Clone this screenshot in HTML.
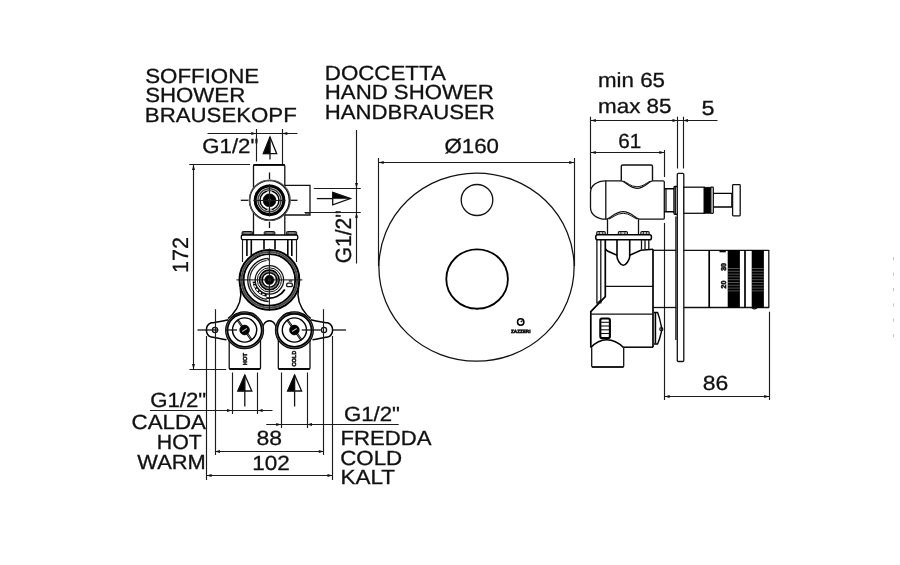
<!DOCTYPE html>
<html><head><meta charset="utf-8"><title>Drawing</title>
<style>
html,body{margin:0;padding:0;background:#fff;}
body{width:900px;height:565px;overflow:hidden;}
svg{display:block;}
text{font-family:"Liberation Sans",sans-serif;fill:#111;stroke:#111;stroke-width:0.3;text-rendering:geometricPrecision;}
svg{will-change:transform;filter:grayscale(1);}
.t{stroke:#1c1c1c;stroke-width:1.15;fill:none;}
.m{stroke:#111;stroke-width:1.3;fill:none;}
.k{stroke:#000;stroke-width:1.7;fill:none;}
.f{fill:#000;stroke:#000;stroke-width:0.6;}
</style></head>
<body>
<svg width="900" height="565" viewBox="0 0 900 565">
<rect x="0" y="0" width="900" height="565" fill="#fff"/>
<text x="145.2" y="82.5" font-size="20.5" textLength="114" lengthAdjust="spacingAndGlyphs" >SOFFIONE</text>
<text x="145.2" y="102.4" font-size="20.5" textLength="100" lengthAdjust="spacingAndGlyphs" >SHOWER</text>
<text x="144.8" y="122" font-size="20.5" textLength="152" lengthAdjust="spacingAndGlyphs" >BRAUSEKOPF</text>
<text x="324.8" y="79.5" font-size="20.5" textLength="121" lengthAdjust="spacingAndGlyphs" >DOCCETTA</text>
<text x="324.8" y="99.2" font-size="20.5" textLength="169" lengthAdjust="spacingAndGlyphs" >HAND SHOWER</text>
<text x="324.8" y="119.2" font-size="20.5" textLength="170" lengthAdjust="spacingAndGlyphs" >HANDBRAUSER</text>
<text x="202.3" y="153.3" font-size="20.5" textLength="56" lengthAdjust="spacingAndGlyphs" >G1/2"</text>
<text x="444.5" y="152.7" font-size="20.5" textLength="54.5" lengthAdjust="spacingAndGlyphs" >Ø160</text>
<text x="598" y="86.7" font-size="20.5" textLength="67" lengthAdjust="spacingAndGlyphs" >min 65</text>
<text x="598" y="112.5" font-size="20.5" textLength="73.5" lengthAdjust="spacingAndGlyphs" >max 85</text>
<text x="701.5" y="114.7" font-size="20.5" textLength="13" lengthAdjust="spacingAndGlyphs" >5</text>
<text x="618.2" y="148" font-size="20.5" textLength="23" lengthAdjust="spacingAndGlyphs" >61</text>
<text x="702.8" y="390" font-size="20.5" textLength="25.5" lengthAdjust="spacingAndGlyphs" >86</text>
<text x="256.5" y="445" font-size="20.5" textLength="25.5" lengthAdjust="spacingAndGlyphs" >88</text>
<text x="252.2" y="470" font-size="20.5" textLength="37.5" lengthAdjust="spacingAndGlyphs" >102</text>
<text x="150.2" y="406.7" font-size="20.5" textLength="56" lengthAdjust="spacingAndGlyphs" >G1/2"</text>
<text x="131.5" y="429.2" font-size="20.5" textLength="74.5" lengthAdjust="spacingAndGlyphs" >CALDA</text>
<text x="156.8" y="448.7" font-size="20.5" textLength="45" lengthAdjust="spacingAndGlyphs" >HOT</text>
<text x="137.3" y="469.2" font-size="20.5" textLength="68.5" lengthAdjust="spacingAndGlyphs" >WARM</text>
<text x="344" y="420.5" font-size="20.5" textLength="56" lengthAdjust="spacingAndGlyphs" >G1/2"</text>
<text x="340.5" y="445" font-size="20.5" textLength="91" lengthAdjust="spacingAndGlyphs" >FREDDA</text>
<text x="340.2" y="464.5" font-size="20.5" textLength="62" lengthAdjust="spacingAndGlyphs" >COLD</text>
<text x="340.5" y="484.2" font-size="20.5" textLength="54.5" lengthAdjust="spacingAndGlyphs" >KALT</text>
<text transform="translate(188.3,273) rotate(-90)" font-size="22" textLength="36" lengthAdjust="spacingAndGlyphs">172</text>
<text transform="translate(351.3,263.3) rotate(-90)" font-size="22" textLength="53" lengthAdjust="spacingAndGlyphs">G1/2"</text>
<line class="t" x1="207.5" y1="133.5" x2="297.5" y2="133.5" />
<line class="t" x1="256.5" y1="129" x2="256.5" y2="161.5" />
<line class="t" x1="282.5" y1="129" x2="282.5" y2="164" />
<path d="M256.3,133.5 L251.3,135.0 L251.3,132.0 Z" fill="#111" stroke="none"/>
<path d="M282.3,133.5 L287.3,132.0 L287.3,135.0 Z" fill="#111" stroke="none"/>
<path class="f" d="M270,137 L263.3,153.7 L270,153.7 Z" />
<path class="m" d="M270,137 L276.7,153.7 L263.3,153.7 Z" />
<line class="m" x1="270" y1="137" x2="270" y2="159.5" />
<line class="t" x1="189.2" y1="164.5" x2="250" y2="164.5" />
<line class="t" x1="193.5" y1="165" x2="193.5" y2="369" />
<path d="M193.5,164.9 L195.0,169.9 L192.0,169.9 Z" fill="#111" stroke="none"/>
<path d="M193.5,369 L192.0,364.0 L195.0,364.0 Z" fill="#111" stroke="none"/>
<line class="t" x1="189.5" y1="369.5" x2="226.2" y2="369.5" />
<path class="m" d="M253.5,235 L253.5,166 Q253.5,164.7 255,164.7 L283.3,164.7 Q284.8,164.7 284.8,166 L284.8,235" />
<line class="k" x1="253.5" y1="165" x2="284.8" y2="165" />
<path class="m" d="M284.8,185.3 L310,185.3 L310,215 L284.8,215" />
<line class="m" x1="305" y1="213" x2="310" y2="213" />
<circle class="k" cx="269.5" cy="200.3" r="19.9" style="stroke-width:1.5;fill:#fff" />
<ellipse class="t" cx="269.8" cy="200.3" rx="20.5" ry="20.2" style="stroke:#555" />
<circle class="k" cx="269.5" cy="200.3" r="14.3" style="stroke-width:3.1" />
<circle class="t" cx="269.5" cy="200.3" r="11.5" style="stroke:#3a3a3a;stroke-width:1.5" />
<circle class="k" cx="269.5" cy="200.3" r="9.5" style="stroke-width:1.5" />
<circle class="f" cx="269.5" cy="200.3" r="6.5" />
<rect class="" x="268.3" y="199.10000000000002" width="2.4" height="2.4" style="fill:#777" />
<rect class="" x="267.3" y="190.70000000000002" width="4.4" height="1.6" style="fill:#ccc" />
<rect class="" x="267.3" y="208.3" width="4.4" height="1.6" style="fill:#ccc" />
<line class="m" x1="240.8" y1="200.3" x2="248.3" y2="200.3" />
<line class="m" x1="290.8" y1="200.3" x2="297.5" y2="200.3" />
<line class="m" x1="269.5" y1="172.5" x2="269.5" y2="179" />
<line class="m" x1="269.5" y1="221.7" x2="269.5" y2="228" />
<line class="t" x1="253.5" y1="200.5" x2="285.5" y2="200.5" />
<line class="t" x1="269.5" y1="184.3" x2="269.5" y2="216.3" />
<line class="t" x1="313.8" y1="188.5" x2="360.8" y2="188.5" />
<line class="t" x1="304.5" y1="212.5" x2="360.8" y2="212.5" />
<line class="t" x1="356.5" y1="130" x2="356.5" y2="263.5" />
<path d="M356.5,188 L355.0,183.0 L358.0,183.0 Z" fill="#111" stroke="none"/>
<path d="M356.5,212.8 L358.0,217.8 L355.0,217.8 Z" fill="#111" stroke="none"/>
<line class="m" x1="316.8" y1="198.6" x2="333" y2="198.6" />
<path class="f" d="M332.7,192.4 L350.4,198.6 L332.7,198.6 Z" />
<path class="m" d="M332.7,192.4 L350.4,198.6 L332.7,204.8 Z" />
<rect class="" x="242" y="231.5" width="10.699999999999989" height="3.6" style="fill:#555;stroke:#111;stroke-width:1" rx="1.2"/>
<line class="" x1="244.5" y1="233" x2="250.2" y2="233" style="stroke:#aaa;stroke-width:0.9" />
<rect class="" x="264.2" y="231.5" width="10.699999999999989" height="3.6" style="fill:#555;stroke:#111;stroke-width:1" rx="1.2"/>
<line class="" x1="266.7" y1="233" x2="272.4" y2="233" style="stroke:#aaa;stroke-width:0.9" />
<rect class="" x="286.4" y="231.5" width="10.300000000000011" height="3.6" style="fill:#555;stroke:#111;stroke-width:1" rx="1.2"/>
<line class="" x1="288.9" y1="233" x2="294.2" y2="233" style="stroke:#aaa;stroke-width:0.9" />
<rect class="k" x="241.3" y="235" width="56.5" height="4.7" style="stroke-width:1.3;fill:#fff" rx="1.6"/>
<line class="t" x1="242.5" y1="239.7" x2="242.5" y2="262" />
<line class="t" x1="296.5" y1="239.7" x2="296.5" y2="262" />
<line class="k" x1="246.9" y1="239.7" x2="246.9" y2="256" style="stroke-width:1.6" />
<line class="k" x1="251.3" y1="239.7" x2="251.3" y2="256" style="stroke-width:1.6" />
<line class="k" x1="287.8" y1="239.7" x2="287.8" y2="256" style="stroke-width:1.6" />
<line class="k" x1="291.8" y1="239.7" x2="291.8" y2="256" style="stroke-width:1.6" />
<line class="k" x1="264" y1="239.7" x2="264" y2="249.6" style="stroke-width:1.6" />
<line class="k" x1="275" y1="239.7" x2="275" y2="249.6" style="stroke-width:1.6" />
<path class="k" d="M240.3,288 C242.2,298 240,306 232,315 L228,318.5" style="stroke-width:1.5" />
<path class="k" d="M298.5,288 C296.6,298 298.8,306 306.8,315 L310.8,318.5" style="stroke-width:1.5" />
<circle class="" cx="269.4" cy="279.9" r="30.6" style="fill:#fff;stroke:none" />
<circle class="k" cx="269.4" cy="279.9" r="29.9" style="stroke-width:2.0" />
<circle class="k" cx="269.4" cy="279.9" r="27.8" style="stroke:#4a4a4a;stroke-width:2.0" />
<circle class="k" cx="269.4" cy="279.9" r="25.8" style="stroke-width:1.8" />
<path class="m" d="M268.65,301.49 A21.6,21.6 0 0 1 267.89,258.35" style="stroke-width:1.3" />
<path class="t" d="M266.67,299.31 A19.6,19.6 0 0 1 266.67,260.49" />
<path class="m" d="M268.2,258.29999999999995 L268.2,260.5" />
<path class="k" d="M284.83,289.54 A18.2,18.2 0 0 1 266.24,297.82" style="stroke-width:1.8" />
<path class="k" d="M266.67,295.36 A15.7,15.7 0 0 1 253.79,281.54" style="stroke-width:2.6" />
<path class="" d="M264.55,294.83 A15.7,15.7 0 0 1 254.04,283.16" style="stroke:#fff;stroke-width:1.5;stroke-dasharray:2.4 1.5;fill:none" />
<circle class="m" cx="269.4" cy="279.9" r="14.2" />
<circle class="m" cx="269.4" cy="279.9" r="12.1" style="stroke-width:1" />
<circle class="k" cx="269.4" cy="279.9" r="9.8" style="stroke-width:1.6" />
<circle class="t" cx="269.4" cy="279.9" r="8.4" style="stroke:#666" />
<circle class="k" cx="269.4" cy="279.9" r="7.2" style="stroke-width:1.4" />
<circle class="f" cx="269.4" cy="279.9" r="4.6" />
<circle class="" cx="269.4" cy="279.9" r="1.4" style="fill:#666" />
<rect class="m" x="286.7" y="283.2" width="5.6" height="3.5" rx="1.2"/>
<line class="m" x1="288.8" y1="281" x2="292.3" y2="281" />
<line class="m" x1="236.4" y1="279.9" x2="302.4" y2="279.9" style="stroke-width:1" />
<line class="m" x1="269.4" y1="248.5" x2="269.4" y2="310.8" style="stroke-width:1" />
<path class="k" d="M228.3,319.8 C222,321.5 216,322 211.3,322.8 Q206.4,324.5 206.4,330 Q206.4,335.5 211.3,337.1 C216,338 222,339 226.5,339.8" style="stroke-width:1.5" />
<path class="k" d="M310.7,319.8 C317,321.5 323,322 327.7,322.8 Q332.6,324.5 332.6,330 Q332.6,335.5 327.7,337.1 C323,338 317,339 312.5,339.8" style="stroke-width:1.5" />
<circle class="m" cx="215" cy="330" r="2.6" />
<circle class="m" cx="324" cy="330" r="2.6" />
<line class="t" x1="215.5" y1="309.2" x2="215.5" y2="455" />
<line class="t" x1="323.5" y1="309.2" x2="323.5" y2="455" />
<line class="t" x1="206.5" y1="336" x2="206.5" y2="480" />
<line class="t" x1="332.5" y1="336" x2="332.5" y2="480" />
<path class="m" d="M229.2,338 L229.2,368 Q229.2,369 230.2,369 L259.5,369 Q260.5,369 260.5,368 L260.5,338" />
<path class="m" d="M278.3,338 L278.3,368 Q278.3,369 279.3,369 L309,369 Q310,369 310,368 L310,338" />
<line class="k" x1="229.5" y1="369" x2="260.2" y2="369" />
<line class="k" x1="278.6" y1="369" x2="309.7" y2="369" />
<path class="k" d="M262.3,332 C262.3,326 264.6,320.8 269.4,320.8 C274.2,320.8 276.5,326 276.5,332" style="stroke-width:1.4" />
<circle class="" cx="244.6" cy="330" r="19.2" style="fill:#fff;stroke:none" />
<ellipse class="k" cx="244.6" cy="330.3" rx="17.9" ry="17.3" style="stroke-width:3.3" />
<ellipse class="" cx="244.6" cy="330.3" rx="18.2" ry="17.6" style="stroke:#777;stroke-width:0.7;fill:none" />
<circle class="k" cx="244.6" cy="330" r="12.1" style="stroke-width:1.4" />
<path class="k" d="M237.7,320.2 L251.5,339.8" style="stroke-width:2.2" />
<path class="" d="M238.1,320.8 L251.1,339.2" style="stroke:#aaa;stroke-width:0.7;fill:none" />
<circle class="f" cx="244.6" cy="330" r="4.9" />
<path class="" d="M242.2,331.5 L247.0,328.5" style="stroke:#bbb;stroke-width:1.2;fill:none" />
<circle class="" cx="294.4" cy="330" r="19.2" style="fill:#fff;stroke:none" />
<ellipse class="k" cx="294.4" cy="330.3" rx="17.9" ry="17.3" style="stroke-width:3.3" />
<ellipse class="" cx="294.4" cy="330.3" rx="18.2" ry="17.6" style="stroke:#777;stroke-width:0.7;fill:none" />
<circle class="k" cx="294.4" cy="330" r="12.1" style="stroke-width:1.4" />
<path class="k" d="M287.5,320.2 L301.29999999999995,339.8" style="stroke-width:2.2" />
<path class="" d="M287.9,320.8 L300.9,339.2" style="stroke:#aaa;stroke-width:0.7;fill:none" />
<circle class="f" cx="294.4" cy="330" r="4.9" />
<path class="" d="M292.0,331.5 L296.79999999999995,328.5" style="stroke:#bbb;stroke-width:1.2;fill:none" />
<path class="m" d="M232.5,317.5 L236,314.2 L252.5,313.2 L256.5,316" style="stroke-width:1.3" />
<path class="m" d="M282.5,316 L286.5,313.2 L303,314.2 L306.5,317.5" style="stroke-width:1.3" />
<line class="m" x1="197.5" y1="330" x2="218.4" y2="330" />
<line class="m" x1="226.2" y1="330" x2="237" y2="330" />
<line class="m" x1="301.7" y1="330" x2="320.8" y2="330" />
<line class="m" x1="333" y1="330" x2="346" y2="330" />
<text transform="translate(247.2,365.3) rotate(-90)" font-size="5.8" font-weight="bold" style="stroke-width:0.5" textLength="12.3" lengthAdjust="spacingAndGlyphs">HOT</text>
<text transform="translate(296.3,366.6) rotate(-90)" font-size="5.8" font-weight="bold" style="stroke-width:0.5" textLength="16" lengthAdjust="spacingAndGlyphs">COLD</text>
<path class="f" d="M244.8,375 L237.8,391 L244.8,391 Z" />
<path class="m" d="M244.8,375 L251.8,391 L237.8,391 Z" />
<line class="m" x1="244.8" y1="375" x2="244.8" y2="406.5" />
<path class="f" d="M294.6,375 L287.6,391 L294.6,391 Z" />
<path class="m" d="M294.6,375 L301.6,391 L287.6,391 Z" />
<line class="m" x1="294.6" y1="375" x2="294.6" y2="406.5" />
<line class="t" x1="232.5" y1="372.5" x2="232.5" y2="414" />
<line class="t" x1="257.5" y1="372.5" x2="257.5" y2="414" />
<line class="t" x1="281.5" y1="372.5" x2="281.5" y2="428" />
<line class="t" x1="307.5" y1="372.5" x2="307.5" y2="428" />
<line class="t" x1="150" y1="410.5" x2="272.5" y2="410.5" />
<path d="M232,410.5 L227.0,412.0 L227.0,409.0 Z" fill="#111" stroke="none"/>
<path d="M257.6,410.5 L262.6,409.0 L262.6,412.0 Z" fill="#111" stroke="none"/>
<line class="t" x1="266.2" y1="424.5" x2="398.7" y2="424.5" />
<path d="M281.2,424.5 L276.2,426.0 L276.2,423.0 Z" fill="#111" stroke="none"/>
<path d="M307,424.5 L312.0,423.0 L312.0,426.0 Z" fill="#111" stroke="none"/>
<line class="t" x1="215" y1="451.5" x2="323.8" y2="451.5" />
<path d="M215,451.5 L220.0,450.0 L220.0,453.0 Z" fill="#111" stroke="none"/>
<path d="M323.8,451.5 L318.8,453.0 L318.8,450.0 Z" fill="#111" stroke="none"/>
<line class="t" x1="206.6" y1="475.5" x2="332.5" y2="475.5" />
<path d="M206.6,475.5 L211.6,474.0 L211.6,477.0 Z" fill="#111" stroke="none"/>
<path d="M332.5,475.5 L327.5,477.0 L327.5,474.0 Z" fill="#111" stroke="none"/>
<line class="t" x1="378.7" y1="162.5" x2="574.2" y2="162.5" />
<path d="M378.7,162.5 L383.7,161.0 L383.7,164.0 Z" fill="#111" stroke="none"/>
<path d="M574.2,162.5 L569.2,164.0 L569.2,161.0 Z" fill="#111" stroke="none"/>
<line class="t" x1="378.5" y1="158" x2="378.5" y2="266" />
<line class="t" x1="574.5" y1="158" x2="574.5" y2="266" />
<ellipse class="m" cx="476.5" cy="267.1" rx="97.6" ry="94.1" style="stroke-width:1.25" />
<ellipse class="m" cx="477" cy="200" rx="15.8" ry="15.5" style="stroke-width:1.3" />
<ellipse class="k" cx="477.1" cy="279" rx="30.8" ry="29.7" style="stroke-width:1.8" />
<line class="m" x1="475.8" y1="309" x2="478.4" y2="309" />
<circle class="k" cx="520.7" cy="322" r="3.2" style="stroke-width:1.5" />
<path class="m" d="M520.7,322 L522.6,320.6" />
<text x="511" y="333.3" font-size="4.6" font-weight="bold" style="stroke-width:0.55" textLength="19.5" lengthAdjust="spacingAndGlyphs">ZAZZERI</text>
<line class="t" x1="590.8" y1="120.5" x2="717.5" y2="120.5" />
<line class="t" x1="590.5" y1="116.7" x2="590.5" y2="189" />
<line class="t" x1="677.5" y1="116.7" x2="677.5" y2="168.5" />
<line class="t" x1="683.5" y1="116.7" x2="683.5" y2="168.5" />
<path d="M590.8,120.5 L595.8,119.0 L595.8,122.0 Z" fill="#111" stroke="none"/>
<path d="M677.5,120.5 L672.5,122.0 L672.5,119.0 Z" fill="#111" stroke="none"/>
<path d="M683,120.5 L688.0,119.0 L688.0,122.0 Z" fill="#111" stroke="none"/>
<line class="t" x1="590.8" y1="152.5" x2="664.3" y2="152.5" />
<path d="M590.8,152.5 L595.8,151.0 L595.8,154.0 Z" fill="#111" stroke="none"/>
<path d="M664.3,152.5 L659.3,154.0 L659.3,151.0 Z" fill="#111" stroke="none"/>
<line class="t" x1="664.5" y1="150" x2="664.5" y2="177" />
<line class="t" x1="664.5" y1="223" x2="664.5" y2="400" />
<line class="t" x1="664.7" y1="396.5" x2="769.2" y2="396.5" />
<path d="M664.7,396.5 L669.7,395.0 L669.7,398.0 Z" fill="#111" stroke="none"/>
<path d="M769.2,396.5 L764.2,398.0 L764.2,395.0 Z" fill="#111" stroke="none"/>
<line class="t" x1="769.5" y1="311.7" x2="769.5" y2="400" />
<path class="m" d="M605.8,180.8 L621.3,180.8 C626,181.5 629,188.3 636.9,188.3 C645,188.3 648,181.5 652.5,180.8 L663,180.8 Q664.3,180.8 664.3,182 L664.3,218 Q664.3,219.2 663,219.2 L639.2,219.2 C635,218 631,211.7 623.2,211.7 C615,211.7 611,218 606.7,219.2 L605.8,219.2 C597,219.2 590.5,214.5 590.5,207.5 L590.5,192.5 C590.5,185.5 597,180.8 605.8,180.8 Z" style="stroke-width:1.3" />
<path class="m" d="M623.5,181.2 C627.5,182.5 630.5,186.7 636.9,186.7 C643.5,186.7 646.5,182.5 650.3,181.2" style="stroke-width:1" />
<path class="m" d="M609,219 C613,217.6 616.5,213.3 623.2,213.3 C629.5,213.3 633,217.6 637,219" style="stroke-width:1" />
<line class="m" x1="605.8" y1="180.8" x2="605.8" y2="219.2" />
<path class="m" d="M621.3,180.8 L621.3,166.5 Q621.3,165 622.8,165 L651,165 Q652.5,165 652.5,166.5 L652.5,180.8" style="stroke-width:1.4" />
<line class="m" x1="607.5" y1="219.2" x2="607.5" y2="234.7" />
<line class="m" x1="638.5" y1="219.2" x2="638.5" y2="234.7" />
<path class="k" d="M664.3,188.7 L674.2,188.7 M664.3,211.7 L674.2,211.7" style="stroke-width:1.5" />
<line class="m" x1="666" y1="188.7" x2="666" y2="211.7" />
<path class="k" d="M677.2,186.5 L675,186.5 Q674,186.5 674,187.5 L674,213.2 Q674,214.2 675,214.2 L677.2,214.2" style="stroke-width:1.4" />
<line class="t" x1="675.5" y1="187" x2="675.5" y2="214" />
<path class="m" d="M677.3,361.3 L677.3,174.5 Q677.3,173.3 678.5,173.3 L682.6,173.3 Q683.8,173.3 683.8,174.5 L683.8,360.3 Q683.8,361.5 682.6,361.5 L678.5,361.5 Q677.3,361.5 677.3,360.3" style="fill:#fff" />
<line class="m" x1="675.9" y1="216.5" x2="675.9" y2="340" style="stroke-width:1.3" />
<rect class="m" x="683.8" y="187.2" width="20.4" height="26.1" style="fill:#fff;stroke-width:1.3" />
<rect class="f" x="704.2" y="187.2" width="6.6" height="26.1" />
<rect class="m" x="710.8" y="187.2" width="2.5" height="26.1" style="stroke-width:1.3" rx="0.8"/>
<path class="k" d="M713.3,193.4 L732.5,193.4 M713.3,207 L732.5,207" style="stroke-width:1.4" />
<line class="m" x1="731.8" y1="193.4" x2="731.8" y2="207" />
<rect class="m" x="732.6" y="184.7" width="7.6" height="31.1" style="stroke-width:1.3;fill:#fff" rx="0.7"/>
<rect class="" x="596.7" y="231.5" width="8.599999999999909" height="3.4" style="fill:#bbb;stroke:#111;stroke-width:1.1" rx="1.2"/>
<line class="" x1="599.3000000000001" y1="231.8" x2="599.3000000000001" y2="234.6" style="stroke:#222;stroke-width:0.9" />
<line class="" x1="602.6999999999999" y1="231.8" x2="602.6999999999999" y2="234.6" style="stroke:#222;stroke-width:0.9" />
<rect class="" x="618.3" y="231.5" width="9.200000000000045" height="3.4" style="fill:#bbb;stroke:#111;stroke-width:1.1" rx="1.2"/>
<line class="" x1="620.9" y1="231.8" x2="620.9" y2="234.6" style="stroke:#222;stroke-width:0.9" />
<line class="" x1="624.9" y1="231.8" x2="624.9" y2="234.6" style="stroke:#222;stroke-width:0.9" />
<rect class="" x="640.8" y="231.5" width="8.400000000000091" height="3.4" style="fill:#bbb;stroke:#111;stroke-width:1.1" rx="1.2"/>
<line class="" x1="643.4" y1="231.8" x2="643.4" y2="234.6" style="stroke:#222;stroke-width:0.9" />
<line class="" x1="646.6" y1="231.8" x2="646.6" y2="234.6" style="stroke:#222;stroke-width:0.9" />
<rect class="k" x="595.8" y="234.8" width="55.6" height="4.9" style="stroke-width:1.5;fill:#fff" rx="1.8"/>
<line class="m" x1="596.9" y1="239.7" x2="596.9" y2="303.5" />
<line class="m" x1="600.8" y1="239.7" x2="600.8" y2="303.5" />
<path class="t" d="M596.9,303.5 L600.8,300" />
<path class="k" d="M605.3,239.7 L605.3,296.7 L590.8,311.7 L590.8,347.5" style="stroke-width:1.7" />
<path class="k" d="M617,239.7 L617,256.5 C617,260 620.8,265.3 623.3,265.3 C625.8,265.3 629.7,260 629.7,256.5 L629.7,239.7" style="stroke-width:1.6" />
<path class="k" d="M605.3,248.8 L607.5,251 L617,255.2" style="stroke-width:1.5" />
<path class="k" d="M629.7,255.2 L640.8,250.3 L653,249.2" style="stroke-width:1.5" />
<line class="m" x1="641.5" y1="239.7" x2="641.5" y2="249.5" />
<line class="m" x1="645" y1="239.7" x2="645" y2="249.5" />
<line class="m" x1="648.8" y1="239.7" x2="648.8" y2="249.5" />
<line class="m" x1="605.8" y1="286.3" x2="653" y2="286.3" />
<path class="k" d="M653,249.2 L653,347.2" style="stroke-width:1.7" />
<line class="m" x1="590.8" y1="314.2" x2="653" y2="314.2" />
<path class="k" d="M623.3,347.2 L653,347.2" style="stroke-width:1.5" />
<line class="m" x1="653" y1="250.3" x2="676.3" y2="250.3" />
<line class="m" x1="683.8" y1="250.3" x2="769.2" y2="250.3" />
<line class="m" x1="653" y1="307.5" x2="676.3" y2="307.5" />
<line class="m" x1="683.8" y1="307.5" x2="769.2" y2="307.5" />
<line class="k" x1="709.2" y1="250.3" x2="709.2" y2="307.5" />
<rect class="f" x="728" y="250.3" width="11.7" height="57.2" />
<rect class="f" x="752" y="250.3" width="11.7" height="57.2" />
<line x1="728" y1="268.5" x2="739.7" y2="268.5" stroke="#666" stroke-width="0.8"/>
<line x1="752" y1="268.5" x2="763.7" y2="268.5" stroke="#666" stroke-width="0.8"/>
<line x1="728" y1="271.3" x2="739.7" y2="271.3" stroke="#666" stroke-width="0.8"/>
<line x1="752" y1="271.3" x2="763.7" y2="271.3" stroke="#666" stroke-width="0.8"/>
<line x1="728" y1="274.1" x2="739.7" y2="274.1" stroke="#666" stroke-width="0.8"/>
<line x1="752" y1="274.1" x2="763.7" y2="274.1" stroke="#666" stroke-width="0.8"/>
<line x1="728" y1="276.9" x2="739.7" y2="276.9" stroke="#666" stroke-width="0.8"/>
<line x1="752" y1="276.9" x2="763.7" y2="276.9" stroke="#666" stroke-width="0.8"/>
<line x1="728" y1="279.7" x2="739.7" y2="279.7" stroke="#666" stroke-width="0.8"/>
<line x1="752" y1="279.7" x2="763.7" y2="279.7" stroke="#666" stroke-width="0.8"/>
<line x1="728" y1="282.5" x2="739.7" y2="282.5" stroke="#666" stroke-width="0.8"/>
<line x1="752" y1="282.5" x2="763.7" y2="282.5" stroke="#666" stroke-width="0.8"/>
<line x1="728" y1="285.3" x2="739.7" y2="285.3" stroke="#666" stroke-width="0.8"/>
<line x1="752" y1="285.3" x2="763.7" y2="285.3" stroke="#666" stroke-width="0.8"/>
<line x1="728" y1="288.1" x2="739.7" y2="288.1" stroke="#666" stroke-width="0.8"/>
<line x1="752" y1="288.1" x2="763.7" y2="288.1" stroke="#666" stroke-width="0.8"/>
<line x1="728" y1="290.9" x2="739.7" y2="290.9" stroke="#666" stroke-width="0.8"/>
<line x1="752" y1="290.9" x2="763.7" y2="290.9" stroke="#666" stroke-width="0.8"/>
<line class="k" x1="745" y1="250.3" x2="745" y2="307.5" />
<line class="m" x1="768.8" y1="250.3" x2="768.8" y2="307.5" />
<path class="m" d="M752,307.8 Q754.5,310 757,307.8" />
<text transform="translate(725.6,270.8) rotate(-90)" font-size="7" font-weight="bold" style="stroke-width:0.6" textLength="7.8" lengthAdjust="spacingAndGlyphs">30</text>
<text transform="translate(725.6,288.4) rotate(-90)" font-size="7" font-weight="bold" style="stroke-width:0.6" textLength="7.8" lengthAdjust="spacingAndGlyphs">20</text>
<line class="k" x1="719.5" y1="251.3" x2="725.8" y2="251.3" style="stroke-width:2" />
<path class="k" d="M654,312.5 L657.6,312.5 Q659.8,318 661.2,326 L662,329.2 L661.2,332.5 Q659.8,339 657.6,344 L654,344" style="stroke-width:1.4" />
<line class="k" x1="655.4" y1="313" x2="655.4" y2="343.5" style="stroke-width:1.6" />
<circle class="m" cx="661.3" cy="329.2" r="1.5" />
<rect class="k" x="600.3" y="318.5" width="9.6" height="19.6" style="stroke-width:2.1;fill:#fff" rx="1.8"/>
<line class="m" x1="601" y1="322.3" x2="609" y2="322.3" style="stroke-width:1.1" />
<line class="m" x1="601" y1="326" x2="609" y2="326" style="stroke-width:1.1" />
<line class="m" x1="601" y1="329.8" x2="609" y2="329.8" style="stroke-width:1.1" />
<line class="m" x1="601" y1="333.5" x2="609" y2="333.5" style="stroke-width:1.1" />
<path class="k" d="M590.8,347.5 C596,342 601,339.7 606.7,339.7 C613,339.7 619,343 623.5,347.5" style="stroke-width:1.6" />
<path class="m" d="M591.7,347.5 L591.7,366 Q591.7,367 592.7,367 L622.7,367 Q623.7,367 623.7,366 L623.7,347.5" style="stroke-width:1.3" />
<line class="m" x1="592" y1="367" x2="623.4" y2="367" style="stroke-width:1.5" />
<line x1="893.5" y1="257.0" x2="893.5" y2="260.20000000000005" stroke="#c4c4c4" stroke-width="1"/>
<line x1="893.5" y1="272.59999999999997" x2="893.5" y2="275.8" stroke="#c4c4c4" stroke-width="1"/>
<line x1="893.5" y1="288.0" x2="893.5" y2="291.20000000000005" stroke="#c4c4c4" stroke-width="1"/>
<line x1="893.5" y1="303.4" x2="893.5" y2="306.6" stroke="#c4c4c4" stroke-width="1"/>
<line x1="893.5" y1="318.59999999999997" x2="893.5" y2="321.8" stroke="#c4c4c4" stroke-width="1"/>
<line x1="893.5" y1="334.0" x2="893.5" y2="337.20000000000005" stroke="#c4c4c4" stroke-width="1"/>
</svg>
</body></html>
